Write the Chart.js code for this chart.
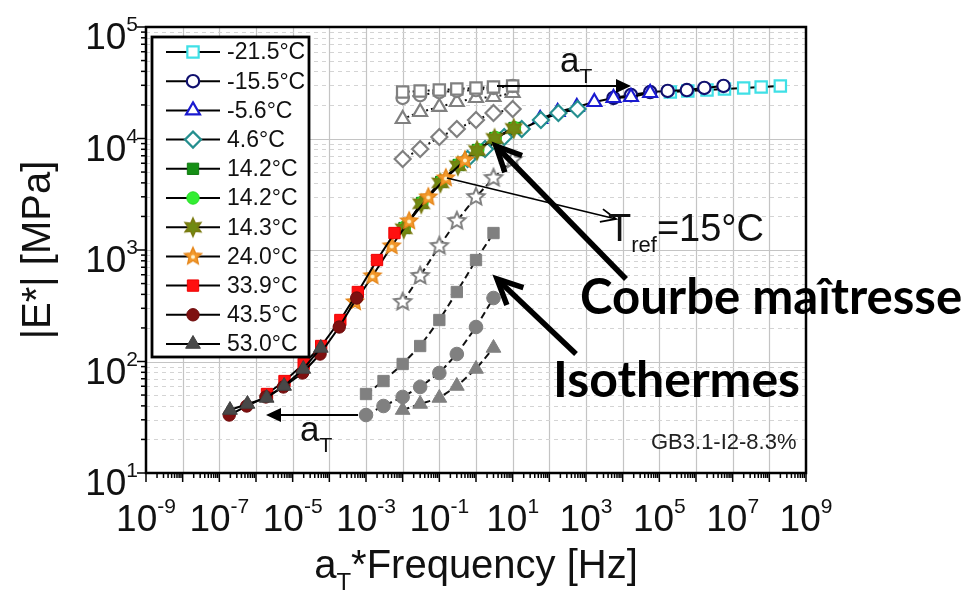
<!DOCTYPE html>
<html>
<head>
<meta charset="utf-8">
<script src="https://cdn.jsdelivr.net/npm/chart.js@4.4.1/dist/chart.umd.min.js"></script>
<style>
  html, body { margin: 0; padding: 0; background: #ffffff; }
  #wrap { width: 973px; height: 594px; position: relative; }
</style>
</head>
<body>
<div id="wrap"><canvas id="chart" width="973" height="594"></canvas></div>
<script>
// ---- data -------------------------------------------------------------
// test temperatures (legend order)
const temperatures = ['-21.5°C', '-15.5°C', '-5.6°C', '4.6°C', '14.2°C', '14.2°C',
                      '14.3°C', '24.0°C', '33.9°C', '43.5°C', '53.0°C'];

// loading frequencies of each isotherm [Hz]
const freqCold = [0.01, 0.03, 0.1, 0.3, 1, 3, 10];
const freqWarm = [0.001, 0.003, 0.01, 0.03, 0.1, 0.3, 1, 3];
const freqHot  = [0.01, 0.03, 0.1, 0.3, 1, 3];

// |E*| measured on each isotherm [MPa]
const modM21_5 = [26100, 26700, 27200, 27800, 28400, 29000, 29600];
const modM15_5 = [23100, 24500, 26100, 26700, 27200, 28400, 29600];
const modM5_6  = [14960, 17290, 19180, 21250, 23070, 23560, 25590];
const mod4_6   = [6550, 8050, 10310, 12170, 14650, 16940, 18390];
const mod14_2a = [1574, 2640, 4070, 5785, 7885, 10100, 12420];
const mod14_2b = [1600, 2680, 4110, 5850, 7950, 10200, 12500];
const mod14_3  = [1550, 2600, 4000, 5700, 7800, 10000, 12300];
const mod24_0  = [342, 585, 1086, 1820, 2987, 4423, 6415];
const mod33_9  = [51.1, 66.8, 95, 137.7, 235.6, 420, 813, 1420];
const mod43_5  = [33.1, 39.9, 48.1, 59.1, 78.9, 116.7, 203.9, 371];
const mod53_0  = [36.7, 41.6, 47.1, 60.3, 85.7, 132.2];

// log10 of the shift factor aT for each temperature (Tref = 15°C)
const logShift = [7.3, 5.75, 3.75, 1.77, 0.05, 0.05, 0.03, -1.3, -2.7, -3.73, -4.71];

// axis decades
const xDecades = [-9, -7, -5, -3, -1, 1, 3, 5, 7, 9];
const yDecades = [1, 2, 3, 4, 5];

// ---- series description -------------------------------------------------
const freqSets = [freqCold, freqCold, freqCold, freqCold, freqCold, freqCold,
                  freqCold, freqCold, freqWarm, freqWarm, freqHot];
const moduli = [modM21_5, modM15_5, modM5_6, mod4_6, mod14_2a, mod14_2b,
                mod14_3, mod24_0, mod33_9, mod43_5, mod53_0];

// marker canvases for star-like symbols
function starMarker(n, rOut, rIn, fill, stroke, lw, dot) {
  const size = Math.ceil(2 * rOut + lw + 4);
  const c = document.createElement('canvas');
  c.width = size; c.height = size;
  const g = c.getContext('2d');
  const cx = size / 2, cy = size / 2;
  g.beginPath();
  for (let i = 0; i < 2 * n; i++) {
    const r = i % 2 === 0 ? rOut : rIn;
    const a = -Math.PI / 2 + i * Math.PI / n;
    const px = cx + r * Math.cos(a), py = cy + r * Math.sin(a);
    if (i === 0) g.moveTo(px, py); else g.lineTo(px, py);
  }
  g.closePath();
  g.fillStyle = fill; g.fill();
  g.lineWidth = lw; g.strokeStyle = stroke; g.lineJoin = 'miter'; g.stroke();
  if (dot) { g.beginPath(); g.arc(cx, cy + 0.5, 2, 0, Math.PI * 2); g.fillStyle = dot; g.fill(); }
  return c;
}
const starOrange = starMarker(5, 9, 4.2, '#f39a2c', '#e5861a', 1.4, '#fff1c8');
const starOlive  = starMarker(6, 9, 4.6, '#6f8a12', '#7a7a10', 1.6, null);
const starGray   = starMarker(5, 9, 4.2, '#ffffff', '#808080', 2, null);

// marker styles of the master-curve series
const styles = [
  { pointStyle: 'rect',     radius: 8,   color: '#3fe0e6', fill: '#ffffff', bw: 2.2 },
  { pointStyle: 'circle',   radius: 6.2, color: '#10106e', fill: '#ffffff', bw: 2.2 },
  { pointStyle: 'triangle', radius: 8,   color: '#1a1ad0', fill: '#ffffff', bw: 2.2 },
  { pointStyle: 'rectRot',  radius: 8,   color: '#258f8f', fill: '#ffffff', bw: 2.2 },
  { pointStyle: 'rect',     radius: 8,   color: '#117a11', fill: '#158f15', bw: 1 },
  { pointStyle: 'circle',   radius: 6.2, color: '#22dd22', fill: '#33ee33', bw: 1 },
  { pointStyle: starOlive,  radius: 9,   color: '#7a7a10', fill: '#6f8a12', bw: 1 },
  { pointStyle: starOrange, radius: 9,   color: '#e5861a', fill: '#f39a2c', bw: 1 },
  { pointStyle: 'rect',     radius: 8,   color: '#ee0000', fill: '#ff1010', bw: 1 },
  { pointStyle: 'circle',   radius: 6.2, color: '#6e0a0a', fill: '#7e1010', bw: 1 },
  { pointStyle: 'triangle', radius: 8.5, color: '#404040', fill: '#484848', bw: 1 }
];

// unshifted isotherms drawn in gray (the 14°C ones coincide with the master curve)
const grayStyles = {
  0: { pointStyle: 'rect',     radius: 8,   fill: '#ffffff', bw: 2.2, dash: [2, 3] },
  1: { pointStyle: 'circle',   radius: 6.2, fill: '#ffffff', bw: 2.2, dash: [2, 3] },
  2: { pointStyle: 'triangle', radius: 8,   fill: '#ffffff', bw: 2.2, dash: [2, 3] },
  3: { pointStyle: 'rectRot',  radius: 8,   fill: '#ffffff', bw: 2.2, dash: [2, 3] },
  7: { pointStyle: starGray,   radius: 9,   fill: '#ffffff', bw: 2,   dash: [7, 4] },
  8: { pointStyle: 'rect',     radius: 8,   fill: '#808080', bw: 1,   dash: [7, 4] },
  9: { pointStyle: 'circle',   radius: 6.8, fill: '#808080', bw: 1,   dash: [7, 4] },
  10:{ pointStyle: 'triangle', radius: 8.5, fill: '#808080', bw: 1,   dash: [7, 4] }
};

const datasets = [];
// gray isotherms at their measured frequencies
Object.keys(grayStyles).forEach(k => {
  const i = Number(k), s = grayStyles[k];
  datasets.push({
    label: 'iso ' + temperatures[i],
    data: freqSets[i].map((f, j) => ({ x: f, y: moduli[i][j] })),
    showLine: true, borderColor: '#111111', borderWidth: 2, borderDash: s.dash,
    pointStyle: s.pointStyle, pointRadius: s.radius, pointHoverRadius: s.radius,
    pointBorderColor: '#808080', pointBackgroundColor: s.fill, pointBorderWidth: s.bw,
    order: 100
  });
});
// master curve: same moduli at the reduced frequency aT*f
temperatures.forEach((t, i) => {
  const s = styles[i];
  const aT = Math.pow(10, logShift[i]);
  datasets.push({
    label: t,
    data: freqSets[i].map((f, j) => ({ x: f * aT, y: moduli[i][j] })),
    showLine: true, borderColor: '#000000', borderWidth: 2,
    pointStyle: s.pointStyle, pointRadius: s.radius, pointHoverRadius: s.radius,
    pointBorderColor: s.color, pointBackgroundColor: s.fill, pointBorderWidth: s.bw,
    order: -i
  });
});

// ---- drawing helpers ------------------------------------------------------
const SANS = '"Liberation Sans", Arial, sans-serif';

function powerLabel(ctx, exp, x, y, align, baseSize, supSize) {
  const base = '10', sup = String(exp);
  ctx.font = baseSize + 'px ' + SANS;
  const wb = ctx.measureText(base).width;
  ctx.font = supSize + 'px ' + SANS;
  const ws = ctx.measureText(sup).width;
  const total = wb + ws;
  const left = align === 'right' ? x - total : x - total / 2;
  ctx.textAlign = 'left';
  ctx.textBaseline = 'alphabetic';
  ctx.font = baseSize + 'px ' + SANS;
  ctx.fillText(base, left, y);
  ctx.font = supSize + 'px ' + SANS;
  ctx.fillText(sup, left + wb, y - baseSize * 0.48);
}

function filledArrow(ctx, x1, y1, x2, y2, lw, headLen, headHalf) {
  const a = Math.atan2(y2 - y1, x2 - x1);
  ctx.save();
  ctx.strokeStyle = '#000'; ctx.fillStyle = '#000'; ctx.lineWidth = lw;
  ctx.beginPath();
  ctx.moveTo(x1, y1);
  ctx.lineTo(x2 - Math.cos(a) * headLen * 0.8, y2 - Math.sin(a) * headLen * 0.8);
  ctx.stroke();
  ctx.beginPath();
  ctx.moveTo(x2, y2);
  ctx.lineTo(x2 - Math.cos(a) * headLen - Math.sin(a) * headHalf, y2 - Math.sin(a) * headLen + Math.cos(a) * headHalf);
  ctx.lineTo(x2 - Math.cos(a) * headLen + Math.sin(a) * headHalf, y2 - Math.sin(a) * headLen - Math.cos(a) * headHalf);
  ctx.closePath();
  ctx.fill();
  ctx.restore();
}

function openArrow(ctx, x1, y1, x2, y2, lw, headLen, headHalf) {
  const a = Math.atan2(y2 - y1, x2 - x1);
  ctx.save();
  ctx.strokeStyle = '#000'; ctx.lineWidth = lw; ctx.lineCap = 'butt'; ctx.lineJoin = 'miter';
  ctx.beginPath();
  ctx.moveTo(x1, y1); ctx.lineTo(x2, y2);
  ctx.stroke();
  ctx.beginPath();
  ctx.moveTo(x2 - Math.cos(a) * headLen - Math.sin(a) * headHalf, y2 - Math.sin(a) * headLen + Math.cos(a) * headHalf);
  ctx.lineTo(x2, y2);
  ctx.lineTo(x2 - Math.cos(a) * headLen + Math.sin(a) * headHalf, y2 - Math.sin(a) * headLen - Math.cos(a) * headHalf);
  ctx.stroke();
  ctx.restore();
}

function subText(ctx, main, sub, rest, x, y, size, subSize) {
  ctx.textAlign = 'left'; ctx.textBaseline = 'alphabetic';
  ctx.font = size + 'px ' + SANS;
  ctx.fillText(main, x, y);
  let cx = x + ctx.measureText(main).width;
  ctx.font = subSize + 'px ' + SANS;
  ctx.fillText(sub, cx, y + size * 0.3);
  cx += ctx.measureText(sub).width;
  if (rest) { ctx.font = size + 'px ' + SANS; ctx.fillText(rest, cx, y); }
}

function fitBold(ctx, text, family, width) {
  ctx.font = 'bold 100px ' + family;
  const w = ctx.measureText(text).width;
  return 100 * width / w;
}

function drawMarker(ctx, s, x, y) {
  ctx.save();
  ctx.strokeStyle = s.color; ctx.fillStyle = s.fill; ctx.lineWidth = s.bw;
  if (typeof s.pointStyle !== 'string') {
    const im = s.pointStyle;
    ctx.drawImage(im, x - im.width / 2, y - im.height / 2);
  } else if (Chart.helpers && Chart.helpers.drawPoint) {
    Chart.helpers.drawPoint(ctx, { pointStyle: s.pointStyle, radius: s.radius, rotation: 0, borderWidth: s.bw }, x, y);
  }
  ctx.restore();
}

// ---- plugin: background, grid, axes, legend and annotations ---------------
const decor = {
  id: 'decor',
  beforeDraw(chart) {
    const ctx = chart.ctx;
    ctx.save();
    ctx.fillStyle = '#ffffff';
    ctx.fillRect(0, 0, chart.width, chart.height);
    ctx.restore();
  },
  beforeDatasetsDraw(chart) {
    const { ctx, chartArea: a, scales: { x, y } } = chart;
    ctx.save();
    // vertical grid at each decade
    ctx.strokeStyle = '#c4c4c4'; ctx.lineWidth = 1.2;
    for (let e = -8; e <= 8; e++) {
      const px = Math.round(x.getPixelForValue(Math.pow(10, e))) + 0.5;
      ctx.beginPath(); ctx.moveTo(px, a.top); ctx.lineTo(px, a.bottom); ctx.stroke();
    }
    // horizontal minor grid (dashed) and decade grid (solid)
    ctx.setLineDash([4, 4]);
    ctx.strokeStyle = '#d4d4d4'; ctx.lineWidth = 1;
    for (let e = 1; e < 5; e++) {
      for (let m = 2; m <= 9; m++) {
        const py = Math.round(y.getPixelForValue(m * Math.pow(10, e))) + 0.5;
        ctx.beginPath(); ctx.moveTo(a.left, py); ctx.lineTo(a.right, py); ctx.stroke();
      }
    }
    ctx.setLineDash([]);
    ctx.strokeStyle = '#c4c4c4'; ctx.lineWidth = 1.2;
    for (let e = 2; e <= 4; e++) {
      const py = Math.round(y.getPixelForValue(Math.pow(10, e))) + 0.5;
      ctx.beginPath(); ctx.moveTo(a.left, py); ctx.lineTo(a.right, py); ctx.stroke();
    }
    ctx.restore();
  },
  afterDatasetsDraw(chart) {
    const { ctx, chartArea: a, scales: { x, y } } = chart;
    ctx.save();
    // frame
    ctx.strokeStyle = '#000'; ctx.lineWidth = 2.5;
    ctx.strokeRect(a.left, a.top, a.right - a.left, a.bottom - a.top);
    // x ticks
    ctx.lineWidth = 1.5;
    for (let e = -9; e <= 9; e++) {
      const px = x.getPixelForValue(Math.pow(10, e));
      ctx.beginPath(); ctx.moveTo(px, a.bottom); ctx.lineTo(px, a.bottom + 9); ctx.stroke();
      if (e < 9) for (let m = 2; m <= 9; m++) {
        const pm = x.getPixelForValue(m * Math.pow(10, e));
        ctx.beginPath(); ctx.moveTo(pm, a.bottom); ctx.lineTo(pm, a.bottom + 5); ctx.stroke();
      }
    }
    // y ticks
    for (let e = 1; e <= 5; e++) {
      const py = y.getPixelForValue(Math.pow(10, e));
      ctx.beginPath(); ctx.moveTo(a.left - 9, py); ctx.lineTo(a.left, py); ctx.stroke();
      if (e < 5) for (let m = 2; m <= 9; m++) {
        const pm = y.getPixelForValue(m * Math.pow(10, e));
        ctx.beginPath(); ctx.moveTo(a.left - 5, pm); ctx.lineTo(a.left, pm); ctx.stroke();
      }
    }
    // tick labels
    ctx.fillStyle = '#111';
    xDecades.forEach(e => {
      powerLabel(ctx, e, x.getPixelForValue(Math.pow(10, e)), a.bottom + 58, 'center', 37, 21);
    });
    yDecades.forEach(e => {
      powerLabel(ctx, e, a.left - 8, y.getPixelForValue(Math.pow(10, e)) + 22, 'right', 37, 21);
    });
    // axis titles
    ctx.save();
    ctx.translate(39, (a.top + a.bottom) / 2);
    ctx.rotate(-Math.PI / 2);
    ctx.font = '40px ' + SANS; ctx.textAlign = 'center'; ctx.textBaseline = 'middle';
    ctx.fillText('|E*| [MPa]', 0, 0);
    ctx.restore();
    ctx.font = '40px ' + SANS;
    const wA = ctx.measureText('a').width;
    ctx.font = '24px ' + SANS;
    const wT = ctx.measureText('T').width;
    ctx.font = '40px ' + SANS;
    const wR = ctx.measureText('*Frequency [Hz]').width;
    const x0 = (a.left + a.right) / 2 - (wA + wT + wR) / 2;
    subText(ctx, 'a', 'T', null, x0, 578, 40, 24);
    ctx.font = '40px ' + SANS; ctx.textAlign = 'left';
    ctx.fillText('*Frequency [Hz]', x0 + wA + wT, 578);

    // legend
    const lx = 152, ly = 37, lw = 157, lh = 320;
    ctx.fillStyle = '#ffffff';
    ctx.fillRect(lx, ly, lw, lh);
    ctx.strokeStyle = '#000'; ctx.lineWidth = 2.8;
    ctx.strokeRect(lx, ly, lw, lh);
    temperatures.forEach((t, i) => {
      const ry = 52 + i * 29.2;
      ctx.strokeStyle = '#000'; ctx.lineWidth = 2;
      ctx.beginPath(); ctx.moveTo(166, ry); ctx.lineTo(220, ry); ctx.stroke();
      drawMarker(ctx, styles[i], 193, ry);
      ctx.fillStyle = '#111';
      ctx.font = '23px ' + SANS; ctx.textAlign = 'left'; ctx.textBaseline = 'middle';
      ctx.fillText(t, 227, ry + 1);
    });

    // shift arrows and labels
    ctx.fillStyle = '#111';
    filledArrow(ctx, 497, 86, 631, 86, 2.2, 15, 7);
    subText(ctx, 'a', 'T', null, 560, 72, 35, 21);
    filledArrow(ctx, 358, 415, 266, 415, 2.2, 15, 7);
    subText(ctx, 'a', 'T', null, 300, 441, 35, 21);
    openArrow(ctx, 447, 178, 616, 219, 1.8, 15, 6.5);
    ctx.fillStyle = '#111';
    subText(ctx, 'T', 'ref', '=15°C', 608, 241, 38, 22);
    openArrow(ctx, 626, 279, 496, 146, 5.5, 25, 12);
    openArrow(ctx, 576, 354, 497, 279, 5.5, 25, 12);
    ctx.fillStyle = '#000';
    ctx.textAlign = 'left'; ctx.textBaseline = 'alphabetic';
    const BOLD = 'Lato, "Open Sans", sans-serif';
    let fs = fitBold(ctx, 'Courbe maîtresse', BOLD, 382);
    ctx.font = 'bold ' + fs.toFixed(1) + 'px ' + BOLD;
    ctx.fillText('Courbe maîtresse', 580, 314);
    fs = fitBold(ctx, 'Isothermes', BOLD, 247);
    ctx.font = 'bold ' + fs.toFixed(1) + 'px ' + BOLD;
    ctx.fillText('Isothermes', 553, 397);
    ctx.fillStyle = '#222';
    ctx.font = '22px ' + SANS;
    ctx.fillText('GB3.1-I2-8.3%', 651, 449);
    ctx.restore();
  }
};

new Chart(document.getElementById('chart'), {
  type: 'scatter',
  data: { datasets },
  options: {
    responsive: false,
    animation: false,
    events: [],
    layout: { padding: { left: 146, right: 167, top: 27, bottom: 121 } },
    plugins: { legend: { display: false }, tooltip: { enabled: false } },
    scales: {
      x: { type: 'logarithmic', min: 1e-9, max: 1e9, display: false },
      y: { type: 'logarithmic', min: 10, max: 1e5, display: false }
    }
  },
  plugins: [decor]
});
</script>
</body>
</html>
